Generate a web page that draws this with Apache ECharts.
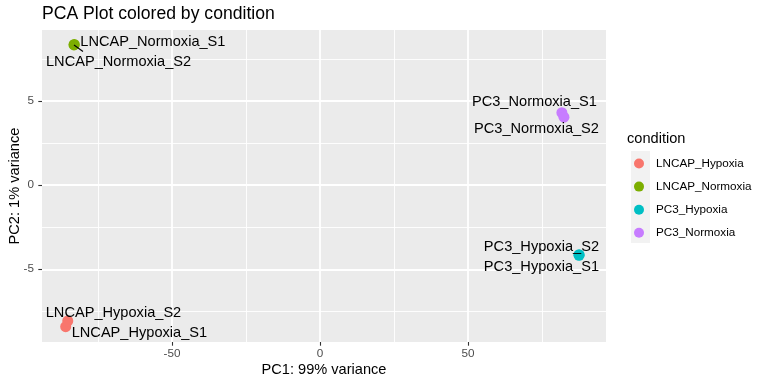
<!DOCTYPE html>
<html>
<head>
<meta charset="utf-8">
<script src="https://cdn.jsdelivr.net/npm/echarts@6/dist/echarts.min.js"></script>
<style>
html,body{margin:0;padding:0;background:#fff;}
#chart{width:768px;height:384px;}
</style>
</head>
<body>
<div id="chart"></div>
<script>
// ---- data ----
const conditions = ['LNCAP_Hypoxia', 'LNCAP_Normoxia', 'PC3_Hypoxia', 'PC3_Normoxia'];
const conditionColors = ['#F8766D', '#7CAE00', '#00BFC4', '#C77CFF'];
const sampleNames = ['LNCAP_Hypoxia_S1', 'LNCAP_Hypoxia_S2', 'LNCAP_Normoxia_S1', 'LNCAP_Normoxia_S2',
                     'PC3_Hypoxia_S1', 'PC3_Hypoxia_S2', 'PC3_Normoxia_S1', 'PC3_Normoxia_S2'];
const sampleCondition = ['LNCAP_Hypoxia', 'LNCAP_Hypoxia', 'LNCAP_Normoxia', 'LNCAP_Normoxia',
                         'PC3_Hypoxia', 'PC3_Hypoxia', 'PC3_Normoxia', 'PC3_Normoxia'];
const pc1 = [-85.9, -85.2, -83.0, -83.1, 87.5, 87.5, 81.7, 82.4];
const pc2 = [-8.42, -8.08, 8.38, 8.35, -4.17, -4.13, 4.32, 4.05];
const xTicks = [-50, 0, 50];
const xMinorTicks = [-75, -25, 25, 75];
const yTicks = [-5, 0, 5];
const yMinorTicks = [-7.5, -2.5, 2.5, 7.5];
const xRange = [-93.9, 96.6];
const yRange = [-9.33, 9.24];

// ---- label placement (style only: pixel offsets of repelled labels) ----
const labelAlign = { 'LNCAP_Hypoxia_S1': 'left', 'LNCAP_Hypoxia_S2': 'left', 'LNCAP_Normoxia_S1': 'left', 'LNCAP_Normoxia_S2': 'left',
                     'PC3_Hypoxia_S1': 'right', 'PC3_Hypoxia_S2': 'right', 'PC3_Normoxia_S1': 'right', 'PC3_Normoxia_S2': 'right' };
const labelShift = { 'LNCAP_Hypoxia_S1': [6, 6], 'LNCAP_Hypoxia_S2': [-22, -8], 'LNCAP_Normoxia_S1': [6, -2], 'LNCAP_Normoxia_S2': [-28, 17],
                     'PC3_Hypoxia_S1': [20, 12], 'PC3_Hypoxia_S2': [20, -8], 'PC3_Normoxia_S1': [35, -11], 'PC3_Normoxia_S2': [35, 12] };
// repel segment: pixel offset of the segment end from the point centre
const labelSegment = { 'LNCAP_Normoxia_S2': [9, 6.5] };

const FONT = '"Liberation Sans", Arial, Helvetica, sans-serif';

const series = conditions.map((c, ci) => {
  const data = [];
  sampleNames.forEach((n, i) => {
    if (sampleCondition[i] !== c) return;
    data.push({
      name: n,
      value: [pc1[i], pc2[i]],
      label: { align: labelAlign[n] }
    });
  });
  return {
    name: c,
    type: 'scatter',
    xAxisIndex: 0,
    yAxisIndex: 0,
    symbol: 'circle',
    symbolSize: 11,
    itemStyle: { color: conditionColors[ci], opacity: 1 },
    data: data,
    z: 5,
    label: {
      show: true,
      position: 'inside',
      formatter: p => p.name,
      color: '#000',
      fontFamily: FONT,
      fontSize: 14.6,
      verticalAlign: 'middle'
    },
    labelLayout: function (params) {
      const s = labelShift[params.text] || [0, 0];
      return { dx: s[0], dy: s[1] };
    },
    emphasis: { disabled: true },
    animation: false
  };
});

// segments of the repelled labels, anchored at the data points
const segData = [];
sampleNames.forEach((n, i) => {
  if (labelSegment[n]) segData.push({ name: n, value: [pc1[i], pc2[i]] });
});
series.push({
  type: 'custom',
  name: 'segments',
  xAxisIndex: 0,
  yAxisIndex: 0,
  z: 6,
  silent: true,
  data: segData,
  renderItem: function (params, api) {
    const p = api.coord([api.value(0), api.value(1)]);
    const n = segData[params.dataIndex].name;
    const o = labelSegment[n];
    return { type: 'line', shape: { x1: p[0], y1: p[1], x2: p[0] + o[0], y2: p[1] + o[1] },
             style: { stroke: '#000', lineWidth: 1.1 } };
  }
});

const chart = echarts.init(document.getElementById('chart'), null, { renderer: 'canvas' });
chart.setOption({
  animation: false,
  backgroundColor: '#FFFFFF',
  title: [
    { text: 'PCA Plot colored by condition', left: 42, top: 5, padding: 0,
      textStyle: { fontFamily: FONT, fontSize: 17.6, fontWeight: 'normal', color: '#000' } },
    { text: 'condition', left: 627, top: 131.5, padding: 0,
      textStyle: { fontFamily: FONT, fontSize: 14.6, fontWeight: 'normal', color: '#000' } }
  ],
  grid: { left: 42, right: 162, top: 30, bottom: 42, show: true, backgroundColor: '#EBEBEB', borderWidth: 0,
          containLabel: false, outerBoundsMode: 'none' },
  legend: {
    data: conditions,
    orient: 'vertical',
    left: 629, top: 152.5,
    icon: 'circle',
    itemWidth: 24, itemHeight: 10, itemGap: 11.1,
    itemStyle: { borderWidth: 0 },
    textStyle: { fontFamily: FONT, fontSize: 11.7, color: '#000', padding: [0, 0, 0, 0] },
    selectedMode: false
  },
  graphic: [
    { type: 'rect', left: 631, top: 151, shape: { width: 19, height: 92 }, style: { fill: '#F2F2F2' }, z: -1, silent: true }
  ],
  xAxis: [
    { type: 'value', min: xRange[0], max: xRange[1], gridIndex: 0, position: 'bottom',
      name: 'PC1: 99% variance', nameLocation: 'middle', nameGap: 20, nameMoveOverlap: false,
      nameTextStyle: { fontFamily: FONT, fontSize: 14.6, color: '#000' },
      axisLine: { show: false, onZero: false },
      axisTick: { show: true, length: 3.7, lineStyle: { color: '#333333', width: 1.1 }, customValues: xTicks },
      axisLabel: { show: true, customValues: xTicks, margin: 6, fontFamily: FONT, fontSize: 11.7, color: '#4D4D4D' },
      splitLine: { show: true, lineStyle: { color: '#FFFFFF', width: 1.8 } },
      z: 2
    },
    { type: 'value', min: xRange[0], max: xRange[1], gridIndex: 0, position: 'bottom',
      axisLine: { show: false, onZero: false },
      axisTick: { show: false, customValues: xMinorTicks },
      axisLabel: { show: false, customValues: xMinorTicks },
      splitLine: { show: true, lineStyle: { color: '#FFFFFF', width: 0.9 } },
      z: 1
    }
  ],
  yAxis: [
    { type: 'value', min: yRange[0], max: yRange[1], gridIndex: 0, position: 'left',
      name: 'PC2: 1% variance', nameLocation: 'middle', nameGap: 20, nameRotate: 90, nameMoveOverlap: false,
      nameTextStyle: { fontFamily: FONT, fontSize: 14.6, color: '#000' },
      axisLine: { show: false, onZero: false },
      axisTick: { show: true, length: 3.7, lineStyle: { color: '#333333', width: 1.1 }, customValues: yTicks },
      axisLabel: { show: true, customValues: yTicks, margin: 8, fontFamily: FONT, fontSize: 11.7, color: '#4D4D4D' },
      splitLine: { show: true, lineStyle: { color: '#FFFFFF', width: 1.8 } },
      z: 2
    },
    { type: 'value', min: yRange[0], max: yRange[1], gridIndex: 0, position: 'left',
      axisLine: { show: false, onZero: false },
      axisTick: { show: false, customValues: yMinorTicks },
      axisLabel: { show: false, customValues: yMinorTicks },
      splitLine: { show: true, lineStyle: { color: '#FFFFFF', width: 0.9 } },
      z: 1
    }
  ],
  series: series
});
</script>
</body>
</html>
